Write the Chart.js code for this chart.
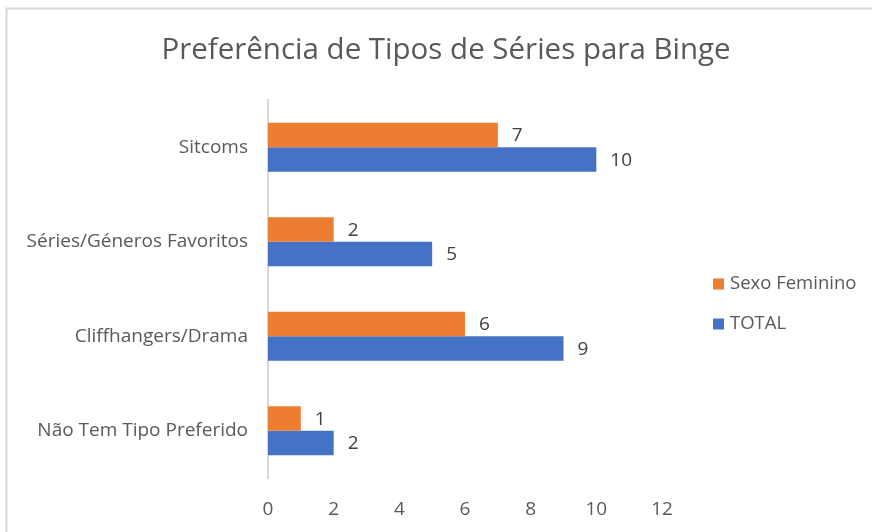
<!DOCTYPE html>
<html>
<head>
<meta charset="utf-8">
<script src="https://cdn.jsdelivr.net/npm/chart.js@4"></script>
<style>
  html, body { margin: 0; padding: 0; background: #fff; }
  #wrap { width: 872px; height: 532px; position: relative; }
</style>
</head>
<body>
<div id="wrap"><canvas id="bingeChart" width="872" height="532"></canvas></div>
<script>
const title = 'Preferência de Tipos de Séries para Binge';
const categories = ['Sitcoms', 'Séries/Géneros Favoritos', 'Cliffhangers/Drama', 'Não Tem Tipo Preferido'];
const femaleValues = [7, 2, 6, 1];
const totalValues = [10, 5, 9, 2];
const xTicks = [0, 2, 4, 6, 8, 10, 12];

const FONT = '"Open Sans", "DejaVu Sans", sans-serif';

// frame, title, value labels and legend drawn on the canvas
const decor = {
  id: 'decor',
  beforeDraw(chart) {
    const ctx = chart.ctx;
    ctx.save();
    ctx.fillStyle = '#fff';
    ctx.fillRect(0, 0, chart.width, chart.height);
    ctx.strokeStyle = '#d9d9d9';
    ctx.lineWidth = 2;
    ctx.beginPath();
    ctx.moveTo(6.5, chart.height);
    ctx.lineTo(6.5, 8.5);
    ctx.lineTo(chart.width, 8.5);
    ctx.stroke();
    ctx.restore();
  },
  afterDatasetsDraw(chart) {
    const ctx = chart.ctx;
    ctx.save();
    // title
    ctx.fillStyle = '#595959';
    ctx.font = '29.5px ' + FONT;
    ctx.textAlign = 'center';
    ctx.textBaseline = 'middle';
    ctx.fillText(title, 446, 51);
    // value labels
    ctx.fillStyle = '#404040';
    ctx.font = '19px ' + FONT;
    ctx.textAlign = 'left';
    chart.data.datasets.forEach((ds, i) => {
      chart.getDatasetMeta(i).data.forEach((bar, j) => {
        ctx.fillText(String(ds.data[j]), bar.x + 14, bar.y + 1);
      });
    });
    // legend
    ctx.font = '18.5px ' + FONT;
    chart.data.datasets.forEach((ds, i) => {
      const y = 284 + i * 40;
      ctx.fillStyle = ds.backgroundColor;
      ctx.fillRect(713, y - 5.5, 11, 11);
      ctx.fillStyle = '#595959';
      ctx.fillText(ds.label, 730, y);
    });
    ctx.restore();
  }
};

new Chart(document.getElementById('bingeChart').getContext('2d'), {
  type: 'bar',
  data: {
    labels: categories,
    datasets: [{
      label: 'Sexo Feminino',
      data: femaleValues,
      backgroundColor: '#ED7D31',
      categoryPercentage: 0.52,
      barPercentage: 1
    }, {
      label: 'TOTAL',
      data: totalValues,
      backgroundColor: '#4472C4',
      categoryPercentage: 0.52,
      barPercentage: 1
    }]
  },
  options: {
    indexAxis: 'y',
    responsive: false,
    animation: false,
    layout: { padding: { top: 100, right: 210, bottom: 0, left: 0 } },
    plugins: {
      legend: { display: false },
      title: { display: false },
      tooltip: { enabled: false }
    },
    scales: {
      x: {
        min: 0,
        max: 12,
        afterBuildTicks: s => { s.ticks = xTicks.map(v => ({ value: v })); },
        afterFit: s => { s.height = 54; },
        grid: { display: false, drawTicks: false },
        border: { display: false },
        ticks: { color: '#595959', font: { family: FONT, size: 19 }, padding: 20 }
      },
      y: {
        afterFit: s => { s.width = 268; },
        grid: { display: false, drawTicks: false },
        border: { display: true, color: '#d9d9d9', width: 2 },
        ticks: { color: '#595959', font: { family: FONT, size: 19 }, padding: 20 }
      }
    }
  },
  plugins: [decor]
});
</script>
</body>
</html>
